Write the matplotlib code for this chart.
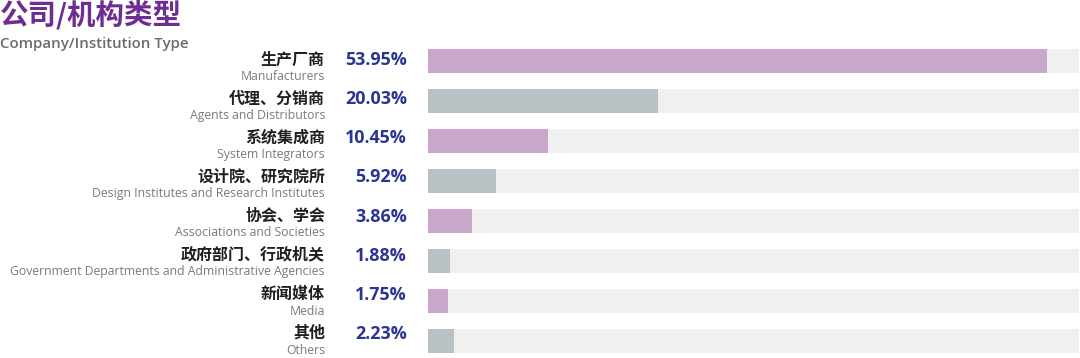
import matplotlib
matplotlib.use("Agg")
import matplotlib.pyplot as plt
from matplotlib.transforms import blended_transform_factory

plt.rcParams['font.family'] = ['Noto Sans CJK SC', 'DejaVu Sans']

categories_cn = ["生产厂商", "代理、分销商", "系统集成商", "设计院、研究院所",
                 "协会、学会", "政府部门、行政机关", "新闻媒体", "其他"]
categories_en = ["Manufacturers", "Agents and Distributors", "System Integrators",
                 "Design Institutes and Research Institutes", "Associations and Societies",
                 "Government Departments and Administrative Agencies", "Media", "Others"]
values = [53.95, 20.03, 10.45, 5.92, 3.86, 1.88, 1.75, 2.23]
track_max = 56.7

PURPLE = "#C9A7CB"
GREY = "#B9C1C4"
TRACK = "#F0F0F0"
colors = [PURPLE if i % 2 == 0 else GREY for i in range(len(values))]

W, H = 1080, 358
fig = plt.figure(figsize=(W / 100, H / 100), dpi=100)
fig.patch.set_facecolor("white")

# axes: left 428px, right 1079px, top 41px, bottom 358px
left, right, top, bottom = 428, 1079, 41, 358
ax = fig.add_axes([left / W, 1 - bottom / H, (right - left) / W, (bottom - top) / H])
n = len(values)
ypos = list(range(n))
ax.barh(ypos, [track_max] * n, height=0.6, color=TRACK, edgecolor="none")
ax.barh(ypos, values, height=0.6, color=colors, edgecolor="none")
ax.set_xlim(0, track_max)
span = (bottom - top) / 40.0
ax.set_ylim(-0.5 + span, -0.5)
ax.axis("off")

tr = blended_transform_factory(fig.transFigure, ax.transData)
step = 0.977
for i in range(n):
    yt = i * step
    ax.text(325 / W, yt - 0.04, categories_cn[i], transform=tr, ha="right", va="center",
            fontsize=11.5, fontweight="bold", color="#231F20")
    ax.text(325 / W, yt + 0.39, categories_en[i], transform=tr, ha="right", va="center",
            fontsize=8.8, color="#7A7A7A", family=["Open Sans", "DejaVu Sans"])
    ax.text(407 / W, yt - 0.02, f"{values[i]:.2f}%", transform=tr, ha="right", va="center",
            fontsize=12.9, fontweight="bold", color="#2B3590", family=["Open Sans", "DejaVu Sans"])

fig.text(0, 1 - 15 / H, "公司/机构类型", ha="left", va="center", fontsize=20.5,
         fontweight="bold", color="#6E2D91")
fig.text(0, 1 - 44 / H, "Company/Institution Type", ha="left", va="center", fontsize=10.8,
         fontweight="semibold", color="#6B6B6B", family=["Open Sans", "DejaVu Sans"])

fig.savefig("out.png", dpi=100, facecolor="white")
